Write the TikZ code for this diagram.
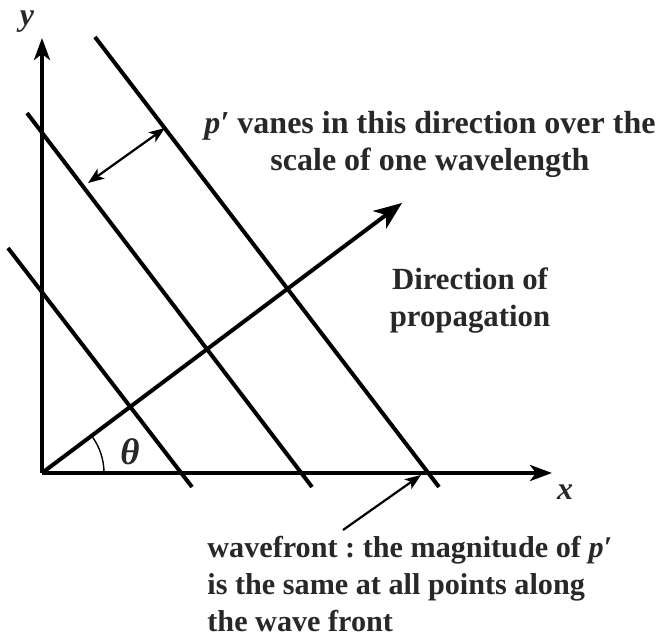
\documentclass[tikz,border=0pt]{standalone}
\usepackage{fontspec}
\setmainfont{Liberation Serif}
\usetikzlibrary{arrows.meta}
\definecolor{txtgray}{RGB}{40,40,40}
\frenchspacing
\tikzset{
  axis/.style={line width=2.3pt, -{Stealth[length=11pt,width=8pt,inset=3pt]}},
  front/.style={line width=2pt},
  lbl/.style={text=txtgray, font=\fontsize{16}{18.5}\selectfont\bfseries, inner sep=0pt}
}
\begin{document}
\begin{tikzpicture}[x=0.5pt,y=0.5pt]
	\useasboundingbox (0,0) rectangle (663,641);
	\coordinate (O) at (42,168);
	\coordinate (ytip) at (42,603);
	\coordinate (xtip) at (552,168);
	\coordinate (ktip) at (402,438);
	
	\draw[axis] (O) -- (ytip);
	\draw[axis] (O) -- (xtip);
	\node[lbl] (ylab) at (27,619) {\textit{y}};
	\node[lbl] (xlab) at (565,149) {\textit{x}};
	
	% wavefronts
	\coordinate (f1a) at (8,393);   \coordinate (f1b) at (192,154);
	\coordinate (f2a) at (27,528);  \coordinate (f2b) at (312,154);
	\coordinate (f3a) at (95,604);  \coordinate (f3b) at (439,154);
	\draw[front] (f1a) -- (f1b);
	\draw[front] (f2a) -- (f2b);
	\draw[front] (f3a) -- (f3b);
	
	\draw[line width=2pt, -{Stealth[length=14pt,width=11pt,inset=4pt]}] (O) -- (ktip);
	\draw[line width=0.7pt] (O) ++(31pt,0) arc (0:36.5:31pt);
	\node[lbl, font=\fontsize{18.5}{20}\selectfont\bfseries] (theta) at (130,189) {\textit{θ}};
	
	% one wavelength
	\coordinate (w1) at (88,458);
	\coordinate (w2) at (165,513);
	\draw[line width=1.1pt, {Stealth[length=8pt,width=6pt,inset=2pt]}-{Stealth[length=8pt,width=6pt,inset=2pt]}] (w1) -- (w2);
	\node[lbl, align=center] (scale) at (430,497) {\textit{p′} vanes in this direction over the\\scale of one wavelength};
	
	\node[lbl, align=center, font=\fontsize{15.4}{18.5}\selectfont\bfseries] (dir) at (470,340) {Direction of\\propagation};
	
	\coordinate (ptr) at (343,111);
	\coordinate (hit) at (421,166);
	\draw[line width=1.1pt, -{Stealth[length=8pt,width=6pt,inset=2pt]}] (ptr) -- (hit);
	\node[lbl, align=left, anchor=north west, font=\fontsize{15.1}{18.5}\selectfont\bfseries] (wf) at (207,105) {wavefront : the magnitude of \textit{p′}\\is the same at all points along\\the wave front};
\end{tikzpicture}
\end{document}
